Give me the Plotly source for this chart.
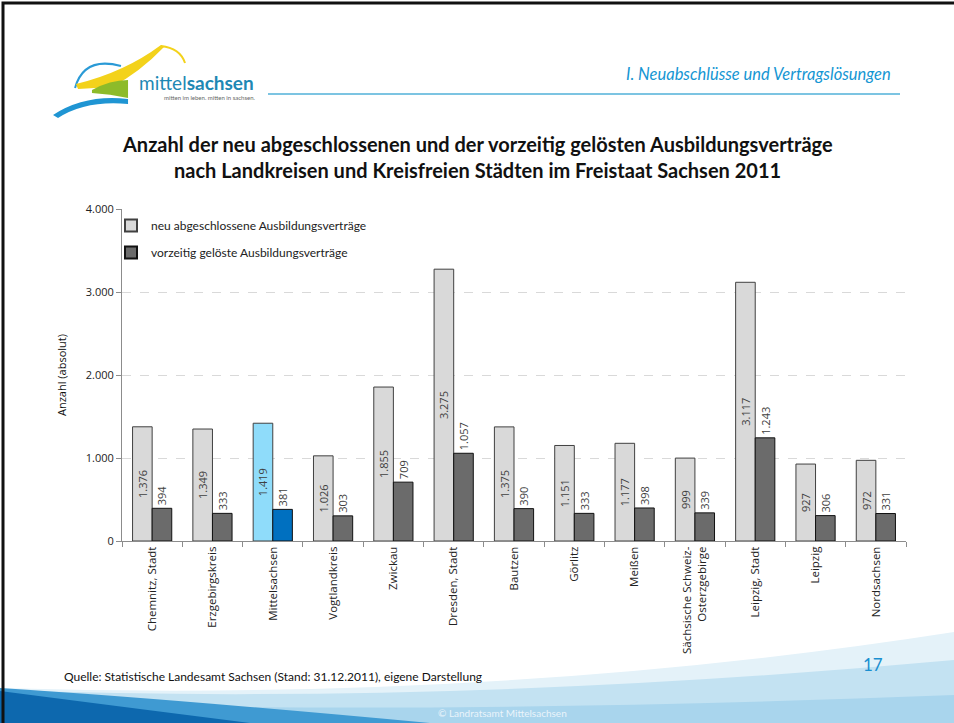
import plotly.graph_objects as go

categories = ["Chemnitz, Stadt", "Erzgebirgskreis", "Mittelsachsen", "Vogtlandkreis",
              "Zwickau", "Dresden, Stadt", "Bautzen", "Görlitz", "Meißen",
              "Sächsische Schweiz-<br>Osterzgebirge", "Leipzig, Stadt", "Leipzig", "Nordsachsen"]
neu = [1376, 1349, 1419, 1026, 1855, 3275, 1375, 1151, 1177, 999, 3117, 927, 972]
geloest = [394, 333, 381, 303, 709, 1057, 390, 333, 398, 339, 1243, 306, 331]
y_ticks = [0, 1000, 2000, 3000, 4000]

W, H = 954, 723
L, R, T, B = 122, 906, 209, 541

def px(x):
    return (x - L) / (R - L)

def py(y):
    return (B - y) / (B - T)

def qpath(start, segs, close=True):
    # segs: list of (ctrl, end) for quadratic pieces, or (None, end) for straight lines
    s = "M %.4f,%.4f" % (px(start[0]), py(start[1]))
    for c, e in segs:
        if c is None:
            s += " L %.4f,%.4f" % (px(e[0]), py(e[1]))
        else:
            s += " Q %.4f,%.4f %.4f,%.4f" % (px(c[0]), py(c[1]), px(e[0]), py(e[1]))
    return s + (" Z" if close else "")

hl = "Mittelsachsen"
light_cols = ["#8fdcfa" if c == hl else "#d9d9d9" for c in categories]
dark_cols = ["#0070c0" if c == hl else "#6b6b6b" for c in categories]

fig = go.Figure()
fig.add_trace(go.Bar(
    x=categories, y=neu, name="neu abgeschlossene Ausbildungsverträge", legendgroup="a",
    marker=dict(color=light_cols, line=dict(color="#404040", width=1)),
    texttemplate="%{y:,}", textposition="inside", insidetextanchor="middle",
    textangle=-90, textfont=dict(size=11, color="#404040"),
))
fig.add_trace(go.Bar(
    x=categories, y=geloest, name="vorzeitig gelöste Ausbildungsverträge", legendgroup="b",
    marker=dict(color=dark_cols, line=dict(color="#111111", width=1)),
    texttemplate="%{y:,}", textposition="outside", cliponaxis=False,
    textangle=-90, textfont=dict(size=11, color="#404040"),
))

def pshape(p, fill, line=None):
    return dict(type="path", xref="paper", yref="paper", path=p, fillcolor=fill,
                line=line if line else dict(width=0), layer="below")

def stroke(p, color, width=2):
    return dict(type="path", xref="paper", yref="paper", path=p,
                line=dict(color=color, width=width), layer="below")

shapes = []
# footer waves
shapes.append(pshape(qpath((0, 688), [((500, 703), (954, 632)), (None, (954, 723)), (None, (0, 723))]), "#e4f2f9"))
shapes.append(pshape(qpath((0, 690), [((450, 706), (954, 660)), (None, (954, 723)), (None, (0, 723))]), "#c3e2f2"))
shapes.append(pshape(qpath((0, 702), [((420, 716), (954, 695)), (None, (954, 723)), (None, (0, 723))]), "#a9d5ed"))
shapes.append(pshape(qpath((0, 688), [((160, 698), (430, 723)), (None, (0, 723))]), "#3f9ad2"))
shapes.append(pshape(qpath((0, 691), [((100, 704), (250, 723)), (None, (0, 723))]), "#0d68ae"))
# header line
shapes.append(dict(type="line", xref="paper", yref="paper", x0=px(268), x1=px(900), y0=py(94), y1=py(94),
                   line=dict(color="#7cc4e2", width=2)))
# logo swooshes
shapes.append(stroke(qpath((75, 88), [((84, 56), (121, 66))], close=False), "#2a9ad6", 2))
shapes.append(pshape(qpath((76, 84), [((125, 72), (161, 45)), (None, (164, 47)),
                                       ((140, 72), (112, 87)), (None, (78, 89))]), "#f3d21b"))
shapes.append(stroke(qpath((161, 46), [((180, 48), (185, 63))], close=False), "#f3d21b", 2))
shapes.append(pshape(qpath((92, 90), [((110, 80), (128, 80)), (None, (128, 98)),
                                       ((110, 94), (92, 93))]), "#8dbb2a"))
shapes.append(pshape(qpath((53, 115), [((85, 94), (128, 99)), (None, (128, 104)),
                                       ((86, 100), (58, 118))]), "#1f95d3"))
# slide frame
shapes.append(dict(type="rect", xref="paper", yref="paper", x0=px(3), x1=px(970), y0=py(3), y1=py(740),
                   line=dict(color="#111111", width=3), fillcolor="rgba(0,0,0,0)"))

def note(text, x, y, xanchor="center", size=11, color="#111111", family=None, angle=0):
    f = dict(size=size, color=color)
    if family:
        f["family"] = family
    return dict(text=text, x=px(x), y=py(y), xref="paper", yref="paper", xanchor=xanchor,
                yanchor="middle", showarrow=False, textangle=angle, font=f)

lato = "Lato, Open Sans, sans-serif"
annotations = [
    note("<b>Anzahl der neu abgeschlossenen und der vorzeitig gelösten Ausbildungsverträge</b>",
         477, 144, size=20, family=lato),
    note("<b>nach Landkreisen und Kreisfreien Städten im Freistaat Sachsen 2011</b>",
         477, 170, size=20, family=lato),
    note("<i>I. Neuabschlüsse und Vertragslösungen</i>", 893, 74, xanchor="right", size=16.5,
         color="#1596d3", family=lato),
    note("mittel<b>sachsen</b>", 137, 83, xanchor="left", size=19, color="#1e88b4", family=lato),
    note("mitten im leben. mitten in sachsen.", 258, 97, xanchor="right", size=6, color="#666666",
         family=lato),
    note("Quelle: Statistische Landesamt Sachsen (Stand: 31.12.2011), eigene Darstellung", 62, 676,
         xanchor="left", size=12, family=lato),
    note("17", 873, 664, size=17, color="#1a8fd0", family=lato),
    note("© Landratsamt Mittelsachsen", 502, 713, size=10, color="#eaf4fb", family=lato),
    note("Anzahl (absolut)", 61, 375, size=11, angle=-90),
]

fig.update_layout(
    width=W, height=H,
    margin=dict(l=L, r=W - R, t=T, b=H - B, autoexpand=False),
    paper_bgcolor="white", plot_bgcolor="white",
    font=dict(family="Open Sans, Arial, sans-serif", size=11, color="#222222"),
    separators=",.",
    barmode="group", bargap=0.35, bargroupgap=0,
    uniformtext=dict(minsize=10, mode="show"),
    showlegend=True,
    legend=dict(x=px(111), y=py(211), xanchor="left", yanchor="top", bgcolor="rgba(0,0,0,0)",
                font=dict(size=12, color="#222222", family=lato), tracegroupgap=8,
                itemwidth=30, itemsizing="constant"),
    shapes=shapes, annotations=annotations,
)
fig.update_xaxes(showline=True, linecolor="#8c8c8c", linewidth=1, ticks="outside", tickson="boundaries",
                 ticklen=5, tickcolor="#8c8c8c", tickangle=-90, tickfont=dict(size=11.5, color="#222222"))
fig.update_yaxes(range=[0, 4000], tickvals=y_ticks, tickformat=",", showline=True, linecolor="#8c8c8c",
                 ticks="outside", ticklen=5, tickcolor="#8c8c8c", gridcolor="#d9d9d9", griddash="dash",
                 zeroline=False, tickfont=dict(size=11, color="#222222"))

fig.write_html("out.html", config={"displayModeBar": False},
               post_script="document.body.style.margin='0';")
